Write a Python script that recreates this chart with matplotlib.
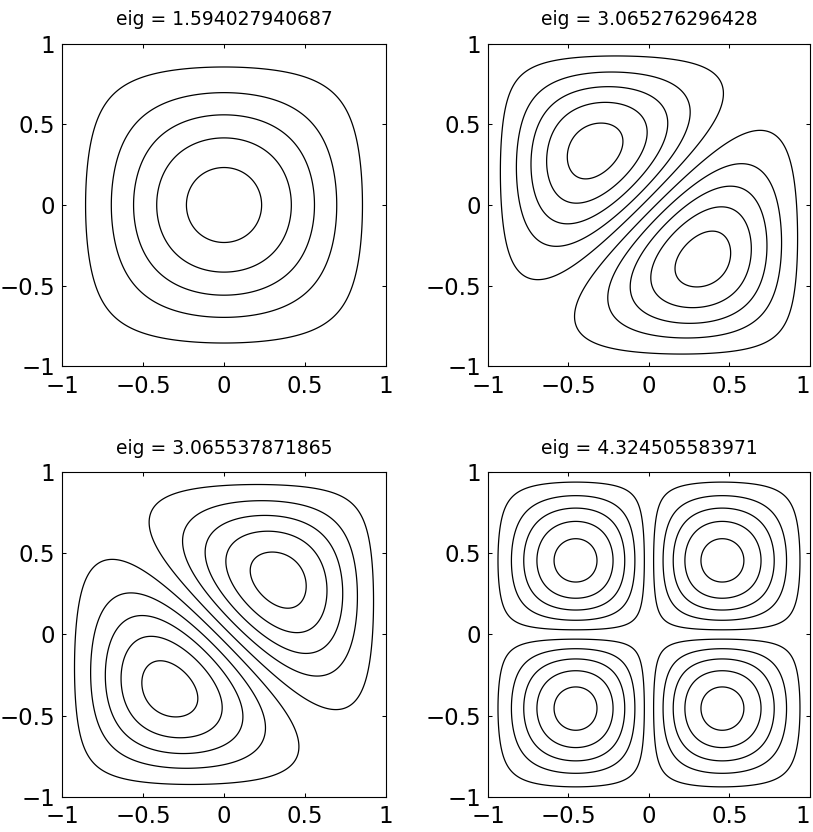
import numpy as np
import matplotlib
matplotlib.use('Agg')
import matplotlib.pyplot as plt

# eigenvalues shown in the titles
EIGS = ['1.594027940687', '3.065276296428', '3.065537871865', '4.324505583971']

EXP_EVEN = 1.55   # even mode: cos(pi x/2)^p
EXP_ODD = 0.33    # odd mode: sin(pi x) * cos(pi x/2)^q

# how the two 1D profiles combine in each panel
COMBOS = ['even', 'diff', 'sum', 'odd']

LEVELS = [0.1, 0.3, 0.5, 0.7, 0.9]   # fraction of max |u|
TICKS = [-1, -0.5, 0, 0.5, 1]
TICK_LABELS = ['\u22121', '\u22120.5', '0', '0.5', '1']

# axes boxes in figure fractions (left, bottom, width, height)
BOXES = [(0.0763, 0.5595, 0.3985, 0.3882),
         (0.6002, 0.5595, 0.3961, 0.3882),
         (0.0763, 0.0421, 0.3985, 0.3906),
         (0.6002, 0.0421, 0.3961, 0.3906)]

x = np.linspace(-1, 1, 501)
xx, yy = np.meshgrid(x, x)


def f1(t):
    return np.clip(np.cos(np.pi * t / 2), 0, None) ** EXP_EVEN


def f2(t):
    return np.sin(np.pi * t) * np.clip(np.cos(np.pi * t / 2), 0, None) ** EXP_ODD


def field(kind):
    if kind == 'even':
        return f1(xx) * f1(yy)
    if kind == 'diff':
        return f1(xx) * f2(yy) - f2(xx) * f1(yy)
    if kind == 'sum':
        return f1(xx) * f2(yy) + f2(xx) * f1(yy)
    return f2(xx) * f2(yy)


fig = plt.figure(figsize=(8.13, 8.32), dpi=100)

for i, (box, kind, eig) in enumerate(zip(BOXES, COMBOS, EIGS)):
    ax = fig.add_axes(box)
    u = field(kind)
    m = np.abs(u).max()
    lv = sorted([-l * m for l in LEVELS] + [l * m for l in LEVELS])
    ax.contour(xx, yy, u, levels=lv, colors='k', linewidths=0.9,
               negative_linestyles='solid')
    ax.set_xlim(-1, 1)
    ax.set_ylim(-1, 1)
    ax.set_xticks(TICKS)
    ax.set_yticks(TICKS)
    ax.set_xticklabels(TICK_LABELS)
    ax.set_yticklabels(TICK_LABELS)
    ax.tick_params(direction='in', length=3, width=0.75, top=True, right=True,
                   labelsize=16.5, pad=6)
    ax.tick_params(axis='y', pad=5)
    if i % 2 == 1:
        # keep the last "1" inside the figure edge
        ax.get_xticklabels()[-1].set_horizontalalignment('right')
    for s in ax.spines.values():
        s.set_linewidth(0.8)
    ax.set_title('eig = ' + eig, fontsize=13.5, pad=13)

plt.savefig('out.png', dpi=100)
